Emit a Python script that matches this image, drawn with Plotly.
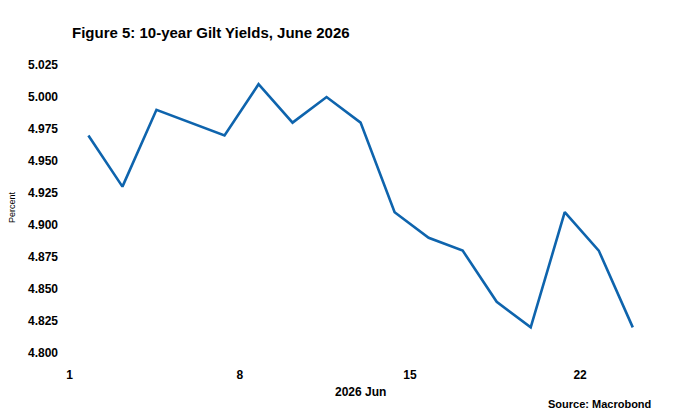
import numpy as np
import plotly.graph_objects as go

dates = ["2026-06-01", "2026-06-02", "2026-06-03", "2026-06-04", "2026-06-05",
         "2026-06-08", "2026-06-09", "2026-06-10", "2026-06-11", "2026-06-12",
         "2026-06-15", "2026-06-16", "2026-06-17", "2026-06-18", "2026-06-19",
         "2026-06-22", "2026-06-23"]
yields = [4.97, 4.93, 4.99, 4.98, 4.97,
          5.01, 4.98, 5.00, 4.98, 4.91,
          4.89, 4.88, 4.84, 4.82, 4.91,
          4.88, 4.82]
tick_dates = ["2026-06-01", "2026-06-08", "2026-06-15", "2026-06-22"]
tick_labels = ["1", "8", "15", "22"]
y_ticks = [4.800, 4.825, 4.850, 4.875, 4.900, 4.925, 4.950, 4.975, 5.000, 5.025]

start = np.datetime64(dates[0])
x_idx = [int(np.busday_count(start, np.datetime64(d))) for d in dates]
tick_idx = [int(np.busday_count(start, np.datetime64(d))) - 0.55 for d in tick_dates]

FONT = "Liberation Sans"
# page has an 8px body margin, so the figure is sized/placed to compensate
PW, PH = 592, 302  # plot area size
fig = go.Figure()
fig.add_trace(go.Scatter(x=x_idx, y=yields, mode="lines",
                         line=dict(color="#0e64ad", width=2.6),
                         hoverinfo="skip", showlegend=False))

fig.update_layout(
    width=692, height=404,
    margin=dict(l=60, r=40, t=50, b=52),
    paper_bgcolor="white", plot_bgcolor="white",
    font=dict(family=FONT, color="black"),
    xaxis=dict(range=[-0.6, 16.8], tickvals=tick_idx, ticktext=tick_labels,
               showgrid=False, zeroline=False, showline=False,
               tickfont=dict(size=12, family=FONT, weight="bold"),
               ticklabelstandoff=6),
    yaxis=dict(range=[4.7945, 5.0305], tickvals=y_ticks,
               ticktext=[f"{v:.3f}" for v in y_ticks],
               showgrid=False, zeroline=False, showline=False,
               tickfont=dict(size=12, family=FONT, weight="bold"),
               ticklabelstandoff=9),
    annotations=[
        dict(text="<b>Figure 5: 10-year Gilt Yields, June 2026</b>", xref="paper", yref="paper",
             x=(70 - 68) / PW, y=1 + (58 - 32) / PH, xanchor="left", yanchor="middle",
             showarrow=False, font=dict(size=15, family=FONT, color="black")),
        dict(text="Percent", xref="paper", yref="paper", x=(12 - 68) / PW,
             y=(360 - 207) / PH, textangle=-90, xanchor="center", yanchor="middle",
             showarrow=False, font=dict(size=9, family=FONT, color="black")),
        dict(text="<b>2026 Jun</b>", xref="paper", yref="paper", x=(360 - 68) / PW,
             y=-(392 - 360) / PH, xanchor="center", yanchor="middle",
             showarrow=False, font=dict(size=12, family=FONT, color="black")),
        dict(text="<b>Source: Macrobond</b>", xref="paper", yref="paper",
             x=(653 - 68) / PW, y=-(404 - 360) / PH, xanchor="right", yanchor="middle",
             showarrow=False, font=dict(size=11, family=FONT, color="black")),
    ],
)
fig.write_html("out.html")
